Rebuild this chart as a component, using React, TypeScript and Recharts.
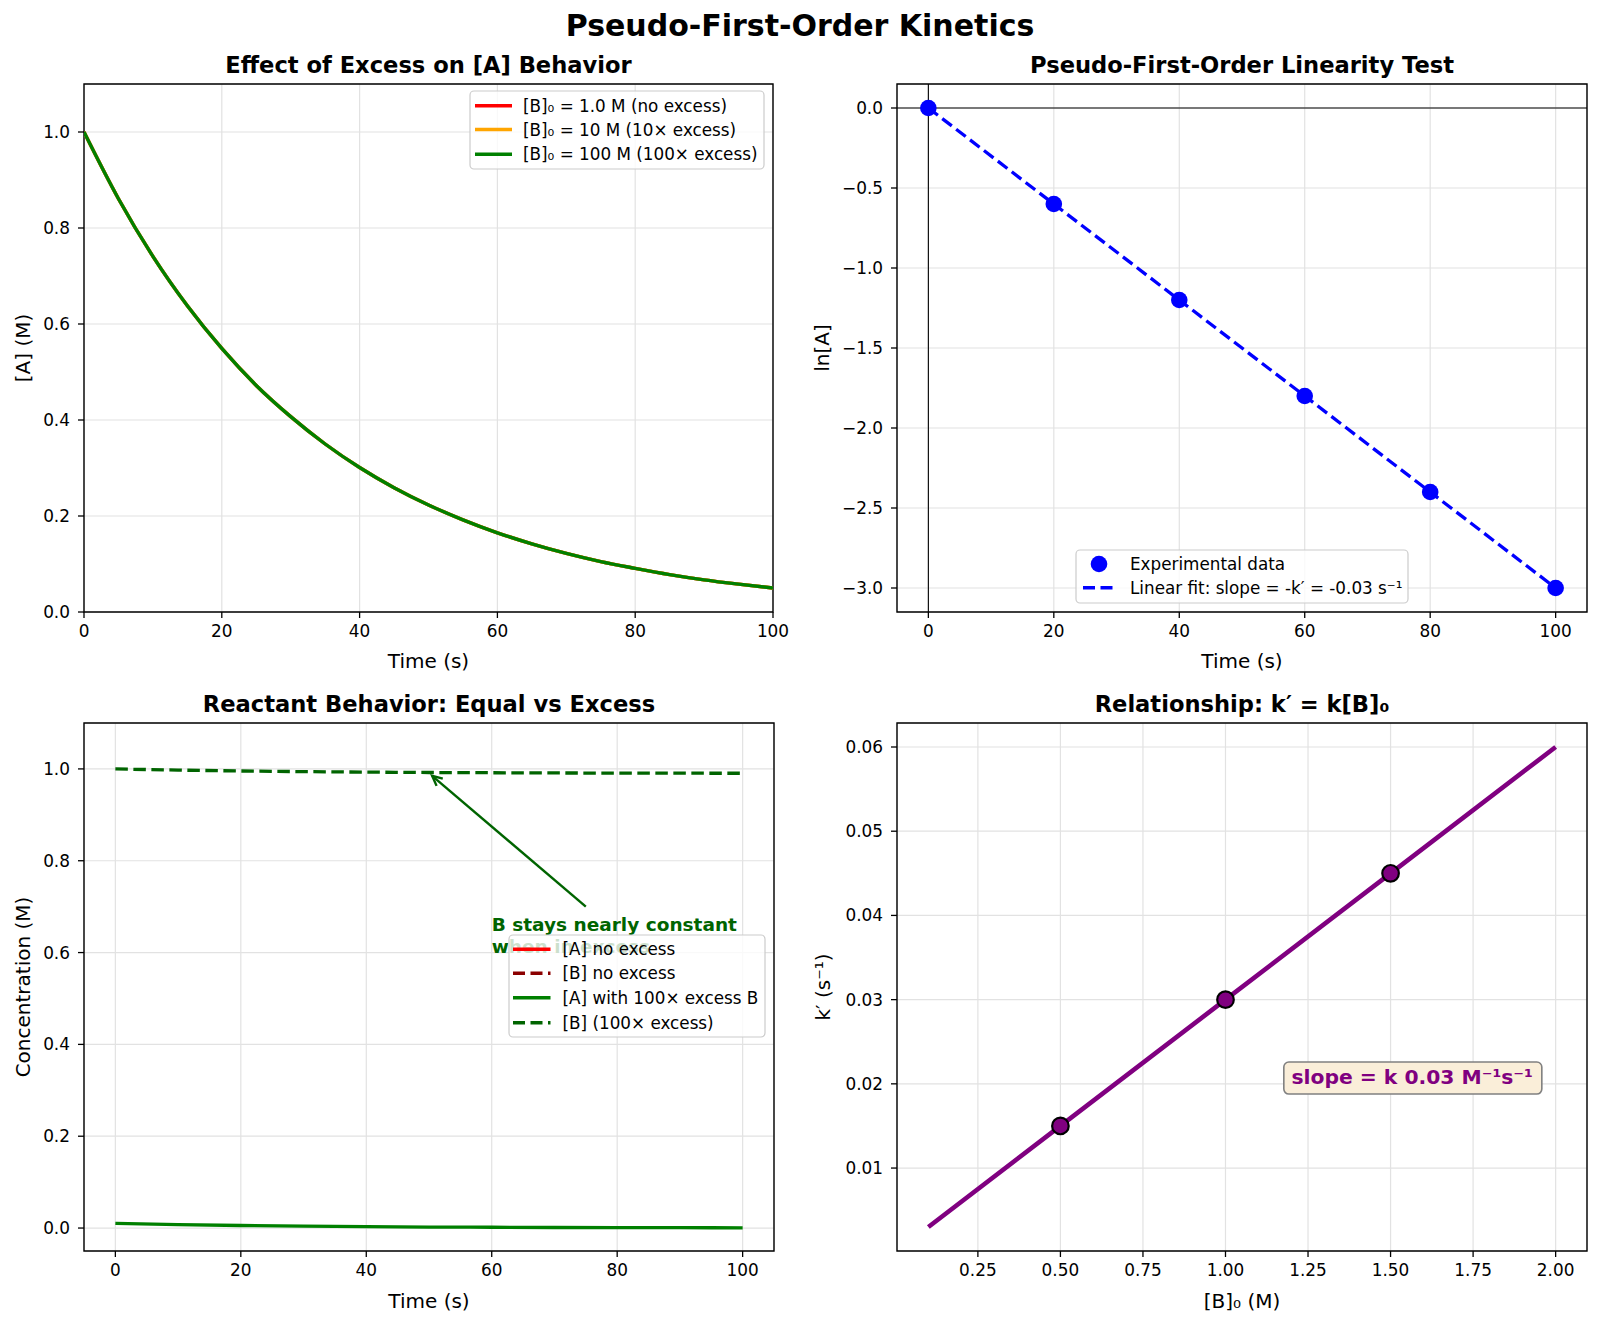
import React from 'react';
import {
  LineChart,
  ComposedChart,
  Line,
  Scatter,
  XAxis,
  YAxis,
  CartesianGrid,
  ReferenceArea,
  ReferenceLine,
  ReferenceDot,
} from 'recharts';

const FONT = '"DejaVu Sans", Verdana, sans-serif';

// ---------- Panel 1: Effect of Excess on [A] ----------
const timeA = [0, 5, 10, 15, 20, 25, 30, 35, 40, 45, 50, 55, 60, 65, 70, 75, 80, 85, 90, 95, 100];
const aNoExcess = [1.0, 0.861, 0.741, 0.638, 0.549, 0.472, 0.407, 0.35, 0.301, 0.259, 0.223, 0.192, 0.165, 0.142, 0.122, 0.105, 0.091, 0.078, 0.067, 0.058, 0.05];
const a10x = [1.0, 0.861, 0.741, 0.638, 0.549, 0.472, 0.407, 0.35, 0.301, 0.259, 0.223, 0.192, 0.165, 0.142, 0.122, 0.105, 0.091, 0.078, 0.067, 0.058, 0.05];
const a100x = [1.0, 0.861, 0.741, 0.638, 0.549, 0.472, 0.407, 0.35, 0.301, 0.259, 0.223, 0.192, 0.165, 0.142, 0.122, 0.105, 0.091, 0.078, 0.067, 0.058, 0.05];
const xTicks100 = [0, 20, 40, 60, 80, 100];
const yTicksA = [0, 0.2, 0.4, 0.6, 0.8, 1.0];

// ---------- Panel 2: Linearity test ----------
const timeLn = [0, 20, 40, 60, 80, 100];
const lnA = [0, -0.6, -1.2, -1.8, -2.4, -3.0];
const lnFit = [0, -0.6, -1.2, -1.8, -2.4, -3.0];
const yTicksLn = [-3.0, -2.5, -2.0, -1.5, -1.0, -0.5, 0.0];

// ---------- Panel 3: Reactant behavior ----------
const timeR = [0, 10, 20, 30, 40, 50, 60, 70, 80, 90, 100];
const aWithExcess = [0.01, 0.0074, 0.0055, 0.0041, 0.003, 0.0022, 0.0017, 0.0012, 0.0009, 0.0007, 0.0005];
const bExcess = [1.0, 0.9974, 0.9955, 0.9941, 0.993, 0.9922, 0.9917, 0.9912, 0.9909, 0.9907, 0.9905];

// ---------- Panel 4: k' = k[B]0 ----------
const bConc = [0.1, 0.5, 1.0, 1.5, 2.0];
const kPrimeLine = [0.003, 0.015, 0.03, 0.045, 0.06];
const bExp = [0.5, 1.0, 1.5];
const kPrimeExp = [0.015, 0.03, 0.045];
const xTicksB = [0.25, 0.5, 0.75, 1.0, 1.25, 1.5, 1.75, 2.0];
const yTicksK = [0.01, 0.02, 0.03, 0.04, 0.05, 0.06];

const excessData = timeA.map((t, i) => ({ t, red: aNoExcess[i], orange: a10x[i], green: a100x[i] }));
const lnData = timeLn.map((t, i) => ({ t, lnA: lnA[i], fit: lnFit[i] }));
const reactData = timeR.map((t, i) => ({ t, a: aWithExcess[i], b: bExcess[i] }));
const kLineData = bConc.map((b, i) => ({ b, k: kPrimeLine[i] }));
const kExpData = bExp.map((b, i) => ({ b, k: kPrimeExp[i] }));

const tickStyle = { fill: '#000', fontSize: 16.9, fontFamily: FONT };
const tickLine = { stroke: '#000', strokeWidth: 1.3 };
const GRID = '#e2e2e2';

const f1 = (v: number) => (v < 0 ? '\u2212' + Math.abs(v).toFixed(1) : v.toFixed(1));
const f2 = (v: number) => v.toFixed(2);
const f0 = (v: number) => String(v);

const commonX = {
  type: 'number' as const,
  allowDataOverflow: true,
  height: 40,
  tick: tickStyle,
  tickLine,
  axisLine: false,
  tickSize: 6,
  tickMargin: 7,
  interval: 0 as const,
};
const commonY = {
  type: 'number' as const,
  allowDataOverflow: true,
  width: 84,
  tick: tickStyle,
  tickLine,
  axisLine: false,
  tickSize: 6,
  tickMargin: 8,
  interval: 0 as const,
};

function arrowShape(p: any) {
  const { x1, y1, x2, y2 } = p;
  const ang = Math.atan2(y2 - y1, x2 - x1);
  const L = 11;
  const a = 0.45;
  const hx1 = x2 - L * Math.cos(ang - a);
  const hy1 = y2 - L * Math.sin(ang - a);
  const hx2 = x2 - L * Math.cos(ang + a);
  const hy2 = y2 - L * Math.sin(ang + a);
  return (
    <g>
      <line x1={x1} y1={y1} x2={x2} y2={y2} stroke="#006400" strokeWidth={2.4} />
      <polyline points={`${hx1},${hy1} ${x2},${y2} ${hx2},${hy2}`} fill="none" stroke="#006400" strokeWidth={2.4} />
    </g>
  );
}

function annotationText(p: any) {
  return (
    <text x={p.cx} y={p.cy + 1} fill="#006400" fontWeight="bold" fontSize={18.5} fontFamily={FONT}>
      <tspan x={p.cx} dy={0}>B stays nearly constant</tspan>
      <tspan x={p.cx} dy={22.7}>when in excess</tspan>
    </text>
  );
}

function slopeBox(p: any) {
  return (
    <g>
      <rect x={p.cx - 7.7} y={p.cy - 21.8} width={258} height={32} rx={5} ry={5} fill="#faeed9" stroke="#808080" strokeWidth={1.6} />
      <text x={p.cx} y={p.cy} fill="#800080" fontWeight="bold" fontSize={20.3} fontFamily={FONT}>
        slope = k 0.03 M⁻¹s⁻¹
      </text>
    </g>
  );
}

function Panel1() {
  return (
    <div style={{ position: 'absolute', left: 0, top: 74 }}>
      <LineChart width={800} height={588} data={excessData} margin={{ top: 10, right: 27, bottom: 10, left: 0 }}>
        <CartesianGrid stroke={GRID} strokeWidth={1.2} />
        <XAxis dataKey="t" {...commonX} domain={[0, 100]} ticks={xTicks100} tickFormatter={f0} />
        <YAxis {...commonY} domain={[0, 1.1]} ticks={yTicksA} tickFormatter={f1} />
        <Line dataKey="red" type="monotone" stroke="#ff0000" strokeWidth={3.4} dot={false} isAnimationActive={false} />
        <Line dataKey="orange" type="monotone" stroke="#ffa500" strokeWidth={3.4} dot={false} isAnimationActive={false} />
        <Line dataKey="green" type="monotone" stroke="#008000" strokeWidth={3.4} dot={false} isAnimationActive={false} />
        <ReferenceArea x1={0} x2={100} y1={0} y2={1.1} fill="none" stroke="#000" strokeWidth={1.4} />
      </LineChart>
    </div>
  );
}

function Panel2() {
  return (
    <div style={{ position: 'absolute', left: 813, top: 74 }}>
      <ComposedChart width={800} height={588} data={lnData} margin={{ top: 10, right: 26, bottom: 10, left: 0 }}>
        <CartesianGrid stroke={GRID} strokeWidth={1.2} />
        <XAxis dataKey="t" {...commonX} domain={[-5, 105]} ticks={xTicks100} tickFormatter={f0} />
        <YAxis {...commonY} domain={[-3.15, 0.15]} ticks={yTicksLn} tickFormatter={f1} />
        <ReferenceLine y={0} stroke="#000" strokeWidth={1.1} />
        <ReferenceLine x={0} stroke="#000" strokeWidth={1.1} />
        <Line dataKey="fit" type="linear" stroke="#0000ff" strokeWidth={3.3} strokeDasharray="12 5.5" dot={false} isAnimationActive={false} />
        <Scatter dataKey="lnA" fill="#0000ff" isAnimationActive={false} shape={(p: any) => <circle cx={p.cx} cy={p.cy} r={8.3} fill="#0000ff" />} />
        <ReferenceArea x1={-5} x2={105} y1={-3.15} y2={0.15} fill="none" stroke="#000" strokeWidth={1.4} />
      </ComposedChart>
    </div>
  );
}

function Panel3() {
  return (
    <div style={{ position: 'absolute', left: 0, top: 713 }}>
      <LineChart width={800} height={588} data={reactData} margin={{ top: 10, right: 26, bottom: 10, left: 0 }}>
        <CartesianGrid stroke={GRID} strokeWidth={1.2} />
        <XAxis dataKey="t" {...commonX} domain={[-5, 105]} ticks={xTicks100} tickFormatter={f0} />
        <YAxis {...commonY} domain={[-0.05, 1.1]} ticks={yTicksA} tickFormatter={f1} />
        <Line dataKey="a" type="monotone" stroke="#008000" strokeWidth={3.3} dot={false} isAnimationActive={false} />
        <Line dataKey="b" type="monotone" stroke="#006400" strokeWidth={3.3} strokeDasharray="12.5 5.5" dot={false} isAnimationActive={false} />
        <ReferenceLine segment={[{ x: 75, y: 0.7 }, { x: 50.5, y: 0.985 }]} shape={arrowShape} />
        <ReferenceDot x={60} y={0.65} r={1} shape={annotationText} />
        <ReferenceArea x1={-5} x2={105} y1={-0.05} y2={1.1} fill="none" stroke="#000" strokeWidth={1.4} />
      </LineChart>
    </div>
  );
}

function Panel4() {
  return (
    <div style={{ position: 'absolute', left: 813, top: 713 }}>
      <ComposedChart width={800} height={588} data={kLineData} margin={{ top: 10, right: 26, bottom: 10, left: 0 }}>
        <CartesianGrid stroke={GRID} strokeWidth={1.2} />
        <XAxis dataKey="b" {...commonX} domain={[0.005, 2.095]} ticks={xTicksB} tickFormatter={f2} />
        <YAxis {...commonY} domain={[0.00015, 0.06285]} ticks={yTicksK} tickFormatter={f2} />
        <Line dataKey="k" type="linear" stroke="#800080" strokeWidth={4.6} dot={false} isAnimationActive={false} />
        <Scatter data={kExpData} dataKey="k" fill="#800080" isAnimationActive={false} shape={(p: any) => <circle cx={p.cx} cy={p.cy} r={8.3} fill="#800080" stroke="#000" strokeWidth={2.2} />} />
        <ReferenceDot x={1.2} y={0.02} r={1} shape={slopeBox} />
        <ReferenceArea x1={0.005} x2={2.095} y1={0.00015} y2={0.06285} fill="none" stroke="#000" strokeWidth={1.4} />
      </ComposedChart>
    </div>
  );
}

type Row = { cy: number; kind: 'line' | 'dash' | 'dot'; color: string; label: string };

function LegendBox({ x, y, w, h, hx1, hx2, tx, rows }: { x: number; y: number; w: number; h: number; hx1: number; hx2: number; tx: number; rows: Row[] }) {
  return (
    <g>
      <rect x={x} y={y} width={w} height={h} rx={4} ry={4} fill="rgba(255,255,255,0.8)" stroke="#cccccc" strokeWidth={1.2} />
      {rows.map((r, i) => (
        <g key={i}>
          {r.kind === 'dot' ? (
            <circle cx={x + (hx1 + hx2) / 2} cy={y + r.cy} r={8.3} fill={r.color} />
          ) : (
            <line
              x1={x + hx1}
              x2={x + hx2}
              y1={y + r.cy}
              y2={y + r.cy}
              stroke={r.color}
              strokeWidth={3.4}
              strokeDasharray={r.kind === 'dash' ? '12 5.5' : undefined}
            />
          )}
          <text x={x + tx} y={y + r.cy} dominantBaseline="central" fontSize={16.8} fontFamily={FONT} fill="#000">
            {r.label}
          </text>
        </g>
      ))}
    </g>
  );
}

function T({ x, y, s, bold, rot, children }: { x: number; y: number; s: number; bold?: boolean; rot?: boolean; children: React.ReactNode }) {
  return (
    <text
      x={x}
      y={y}
      textAnchor="middle"
      dominantBaseline="central"
      fontSize={s}
      fontWeight={bold ? 'bold' : 'normal'}
      fontFamily={FONT}
      fill="#000"
      transform={rot ? `rotate(-90 ${x} ${y})` : undefined}
    >
      {children}
    </text>
  );
}

export default function App() {
  return (
    <div style={{ position: 'absolute', left: 0, top: 0, width: 1600, height: 1324, background: '#fff', fontFamily: FONT }}>
      <Panel1 />
      <Panel2 />
      <Panel3 />
      <Panel4 />
      <svg width={1600} height={1324} style={{ position: 'absolute', left: 0, top: 0, pointerEvents: 'none' }}>
        <T x={800} y={25.5} s={30} bold>Pseudo-First-Order Kinetics</T>
        <T x={428.5} y={64.5} s={22.6} bold>Effect of Excess on [A] Behavior</T>
        <T x={1242} y={64.5} s={22.6} bold>Pseudo-First-Order Linearity Test</T>
        <T x={429} y={704} s={22.6} bold>Reactant Behavior: Equal vs Excess</T>
        <T x={1242} y={704} s={22.6} bold>Relationship: k′ = k[B]₀</T>

        <T x={428.5} y={661} s={20}>Time (s)</T>
        <T x={1242} y={661} s={20}>Time (s)</T>
        <T x={429} y={1301} s={20}>Time (s)</T>
        <T x={1242} y={1301} s={20}>[B]₀ (M)</T>

        <T x={22.5} y={348} s={20} rot>[A] (M)</T>
        <T x={821.5} y={348} s={20} rot>ln[A]</T>
        <T x={22.5} y={987} s={20} rot>Concentration (M)</T>
        <T x={823} y={987} s={20} rot>k′ (s⁻¹)</T>

        <LegendBox
          x={470}
          y={91}
          w={294}
          h={78}
          hx1={5}
          hx2={42}
          tx={53}
          rows={[
            { cy: 14.7, kind: 'line', color: '#ff0000', label: '[B]₀ = 1.0 M (no excess)' },
            { cy: 38.5, kind: 'line', color: '#ffa500', label: '[B]₀ = 10 M (10× excess)' },
            { cy: 63.3, kind: 'line', color: '#008000', label: '[B]₀ = 100 M (100× excess)' },
          ]}
        />
        <LegendBox
          x={1076}
          y={550}
          w={332}
          h={53}
          hx1={7}
          hx2={39}
          tx={54}
          rows={[
            { cy: 14, kind: 'dot', color: '#0000ff', label: 'Experimental data' },
            { cy: 37.7, kind: 'dash', color: '#0000ff', label: 'Linear fit: slope = -k′ = -0.03 s⁻¹' },
          ]}
        />
        <LegendBox
          x={509}
          y={935}
          w={256}
          h={102}
          hx1={4}
          hx2={41.5}
          tx={53.5}
          rows={[
            { cy: 14.3, kind: 'line', color: '#ff0000', label: '[A] no excess' },
            { cy: 38.3, kind: 'dash', color: '#8b0000', label: '[B] no excess' },
            { cy: 62.7, kind: 'line', color: '#008000', label: '[A] with 100× excess B' },
            { cy: 87.7, kind: 'dash', color: '#006400', label: '[B] (100× excess)' },
          ]}
        />
      </svg>
    </div>
  );
}
